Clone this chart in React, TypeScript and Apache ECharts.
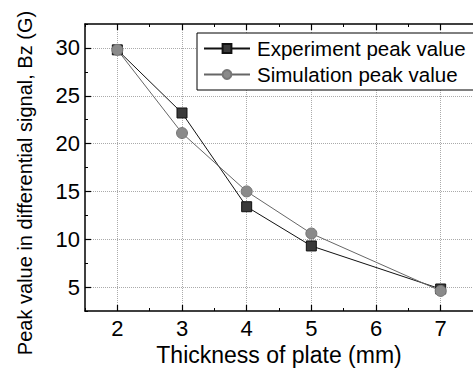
import React, { useEffect, useRef } from 'react';
import * as echarts from 'echarts';

// Plate thickness (mm) and the peak Bz values (G) of the differential signal
const thickness = [2, 3, 4, 5, 7];
const experimentPeak = [29.8, 23.2, 13.4, 9.3, 4.8];
const simulationPeak = [29.8, 21.1, 15.0, 10.6, 4.6];
const xTickLabels = [2, 3, 4, 5, 6, 7];
const yTickLabels = [5, 10, 15, 20, 25, 30];

const FONT = '"Liberation Sans", Arial, Helvetica, sans-serif';

const axisCommon = {
  type: 'value' as const,
  axisLine: { show: true, lineStyle: { color: '#000', width: 1.5 } },
  axisTick: { show: true, inside: true, length: 3, lineStyle: { color: '#000', width: 1 } },
  minorTick: { show: true, splitNumber: 2, length: 6, lineStyle: { color: '#000', width: 1.2 } },
  splitLine: { show: false },
  minorSplitLine: { show: true, lineStyle: { color: '#aaa', width: 1, type: 'dotted' as const } },
};

export default function App() {
  const ref = useRef<HTMLDivElement>(null);

  useEffect(() => {
    if (!ref.current) return;
    const chart = echarts.init(ref.current, undefined, { renderer: 'svg' });
    chart.setOption({
      animation: false,
      backgroundColor: '#fff',
      textStyle: { fontFamily: FONT },
      grid: { left: 85, top: 24, width: 396, height: 287 },
      legend: {
        orient: 'vertical',
        left: 197,
        top: 33,
        padding: [5, 8, 5, 6],
        itemGap: 5,
        itemWidth: 46,
        itemHeight: 11,
        borderColor: '#000',
        borderWidth: 1,
        backgroundColor: '#fff',
        textStyle: { fontSize: 20.5, color: '#000', fontFamily: FONT, padding: [0, 0, 0, 2] },
        data: ['Experiment peak value', 'Simulation peak value'],
      },
      xAxis: [
        {
          ...axisCommon,
          min: 1.5,
          max: 7.5,
          interval: 1,
          position: 'bottom',
          axisLabel: {
            customValues: xTickLabels,
            fontSize: 22,
            color: '#000',
            margin: 6,
            fontFamily: FONT,
          },
          name: 'Thickness of plate (mm)',
          nameLocation: 'middle',
          nameGap: 32,
          nameTextStyle: { fontSize: 23, color: '#000', fontFamily: FONT },
        },
        {
          ...axisCommon,
          min: 1.5,
          max: 7.5,
          interval: 1,
          position: 'top',
          axisLabel: { show: false },
          minorSplitLine: { show: false },
        },
      ],
      yAxis: {
        ...axisCommon,
        min: 2.5,
        max: 32.5,
        interval: 5,
        axisLabel: {
          customValues: yTickLabels,
          fontSize: 22,
          color: '#000',
          margin: 5,
          fontFamily: FONT,
        },
      },
      graphic: [
        {
          type: 'text',
          x: 25,
          y: 183,
          rotation: Math.PI / 2,
          style: {
            text: 'Peak value in differential signal, Bz (G)',
            fontSize: 20,
            fontFamily: FONT,
            fill: '#000',
            align: 'center',
            verticalAlign: 'middle',
          },
        },
      ],
      series: [
        {
          name: 'Experiment peak value',
          type: 'line',
          xAxisIndex: 0,
          data: thickness.map((t, i) => [t, experimentPeak[i]]),
          symbol: 'rect',
          symbolSize: 10,
          lineStyle: { color: '#111', width: 1 },
          itemStyle: { color: '#3a3a3a', borderColor: '#111', borderWidth: 1 },
          z: 3,
        },
        {
          name: 'Simulation peak value',
          type: 'line',
          xAxisIndex: 0,
          data: thickness.map((t, i) => [t, simulationPeak[i]]),
          symbol: 'circle',
          symbolSize: 11,
          lineStyle: { color: '#666', width: 1 },
          itemStyle: { color: '#8a8a8a', borderColor: '#777', borderWidth: 1 },
          z: 4,
        },
      ],
    });
    return () => chart.dispose();
  }, []);

  return (
    <div
      ref={ref}
      style={{ position: 'absolute', left: 0, top: 0, width: 473, height: 373, overflow: 'hidden' }}
    />
  );
}
